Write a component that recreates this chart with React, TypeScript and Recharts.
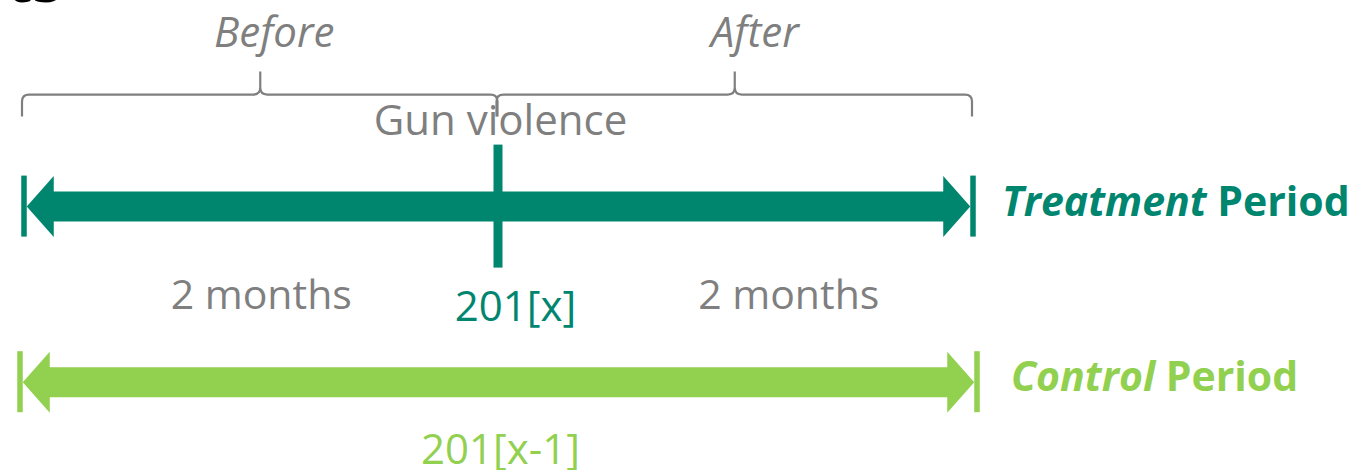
import React from 'react';
import { ComposedChart, XAxis, YAxis, ReferenceLine, ReferenceDot } from 'recharts';

// ---- data ----
const periodNames = ['Treatment', 'Control'];
const periodRows = [2, 1];
const periodStartMonth = [-2, -2];
const periodEndMonth = [2, 2];
const periodYears = ['201[x]', '201[x-1]'];

const phaseNames = ['Before', 'After'];
const phaseStartMonth = [-2, 0];
const phaseEndMonth = [0, 2];
const phaseDurations = ['2 months', '2 months'];

const eventMonth = 0;
const eventName = 'Gun violence';

// ---- styles ----
const TEAL = '#00856F';
const LIGHT_GREEN = '#92D050';
const GRAY = '#7F7F7F';
const FONT = "'Open Sans', 'Noto Sans', sans-serif";

const periodColors = [TEAL, LIGHT_GREEN];
const periodPad = [0, 4];
const periodLabelDx = [29, 34];
const periodLabelSize = [41, 41];
const yearDx = [17, 2];
const yearDy = [114, 82];
const durationDx = [0, 53];
const phaseLabelDx = [14, 20];

const chartData = periodNames.map((n, i) => ({ name: n, x: periodStartMonth[i], y: periodRows[i] }));

function PeriodArrow(props: any) {
  const { x1, x2, y1, idx } = props;
  if (x1 == null || x2 == null || y1 == null) return <g />;
  const color = periodColors[idx];
  const pad = periodPad[idx];
  const L = x1 - pad;
  const R = x2 + pad;
  const y = y1;
  const bw = 5.5;
  const hl = 27;
  const hh = 30.5;
  const sh = 15;
  const lt = L + bw / 2;
  const rt = R - bw / 2;
  const pts = [
    [lt, y],
    [lt + hl, y - hh],
    [lt + hl, y - sh],
    [rt - hl, y - sh],
    [rt - hl, y - hh],
    [rt, y],
    [rt - hl, y + hh],
    [rt - hl, y + sh],
    [lt + hl, y + sh],
    [lt + hl, y + hh],
  ];
  const d = 'M' + pts.map((p) => p[0] + ',' + p[1]).join(' L') + ' Z';
  const mid = (L + R) / 2;
  return (
    <g>
      <path d={d} fill={color} />
      <rect x={L - bw / 2} y={y - 31} width={bw} height={61} fill={color} />
      <rect x={R - bw / 2} y={y - 31} width={bw} height={61} fill={color} />
      <text
        x={R + periodLabelDx[idx]}
        y={y + 9}
        fill={color}
        fontFamily={FONT}
        fontWeight={700}
        fontSize={periodLabelSize[idx]}
      >
        <tspan fontStyle="italic">{periodNames[idx]}</tspan>
        <tspan>{' Period'}</tspan>
      </text>
      <text
        x={mid + yearDx[idx]}
        y={y + yearDy[idx]}
        fill={color}
        fontFamily={FONT}
        fontSize={42}
        textAnchor="middle"
      >
        {periodYears[idx]}
      </text>
    </g>
  );
}

function PhaseBrace(props: any) {
  const { x1, x2, y1, idx } = props;
  if (x1 == null || x2 == null || y1 == null) return <g />;
  const a = x1 - 2;
  const b = x2 - 1;
  const m = (x1 + x2) / 2 - 1;
  const h = y1 - 112;
  const top = y1 - 135;
  const end = y1 - 90;
  const r = 7;
  const d =
    `M${a},${end} L${a},${h + r} Q${a},${h} ${a + r},${h} L${m - r},${h} Q${m},${h} ${m},${h - r} L${m},${top}` +
    ` M${m},${h - r} Q${m},${h} ${m + r},${h} L${b - r},${h} Q${b},${h} ${b},${h + r} L${b},${end}`;
  return (
    <g>
      <path d={d} fill="none" stroke={GRAY} strokeWidth={2.2} />
      <text
        x={m + phaseLabelDx[idx]}
        y={y1 - 160}
        fill={GRAY}
        fontFamily={FONT}
        fontStyle="italic"
        fontSize={42}
        textAnchor="middle"
      >
        {phaseNames[idx]}
      </text>
      <text
        x={(x1 + x2) / 2 + durationDx[idx]}
        y={y1 + 102}
        fill={GRAY}
        fontFamily={FONT}
        fontSize={41}
        textAnchor="middle"
      >
        {phaseDurations[idx]}
      </text>
    </g>
  );
}

function EventMarker(props: any) {
  const { cx, cy } = props;
  if (cx == null || cy == null) return <g />;
  return (
    <g>
      <rect x={cx - 5} y={cy - 62} width={9} height={123} fill={TEAL} />
      <text x={cx + 2} y={cy - 72} fill={GRAY} fontFamily={FONT} fontSize={42} textAnchor="middle">
        {eventName}
      </text>
    </g>
  );
}

export default function App() {
  return (
    <div style={{ position: 'absolute', left: 0, top: 0, width: 1372, height: 470, background: '#fff' }}>
      <svg width={1372} height={470} style={{ position: 'absolute', left: 0, top: 0 }}>
        <text x={62} y={2} textAnchor="end" fontFamily={FONT} fontWeight={700} fontSize={60} fill="#000">
          ts
        </text>
      </svg>
      <div style={{ position: 'absolute', left: 0, top: 0 }}>
        <ComposedChart
          width={1372}
          height={470}
          data={chartData}
          margin={{ top: 31, right: 399, bottom: 0, left: 24 }}
        >
          <XAxis dataKey="x" type="number" domain={[-2, 2]} hide allowDataOverflow />
          <YAxis dataKey="y" type="number" domain={[0.5, 3]} hide allowDataOverflow />
          {phaseNames.map((p, i) => (
            <ReferenceLine
              key={'phase-' + p}
              segment={[
                { x: phaseStartMonth[i], y: periodRows[0] },
                { x: phaseEndMonth[i], y: periodRows[0] },
              ]}
              ifOverflow="visible"
              shape={(sp: any) => <PhaseBrace {...sp} idx={i} />}
            />
          ))}
          {periodNames.map((p, i) => (
            <ReferenceLine
              key={'period-' + p}
              segment={[
                { x: periodStartMonth[i], y: periodRows[i] },
                { x: periodEndMonth[i], y: periodRows[i] },
              ]}
              ifOverflow="visible"
              shape={(sp: any) => <PeriodArrow {...sp} idx={i} />}
            />
          ))}
          <ReferenceDot
            x={eventMonth}
            y={periodRows[0]}
            r={1}
            ifOverflow="visible"
            shape={(sp: any) => <EventMarker {...sp} />}
          />
        </ComposedChart>
      </div>
    </div>
  );
}
